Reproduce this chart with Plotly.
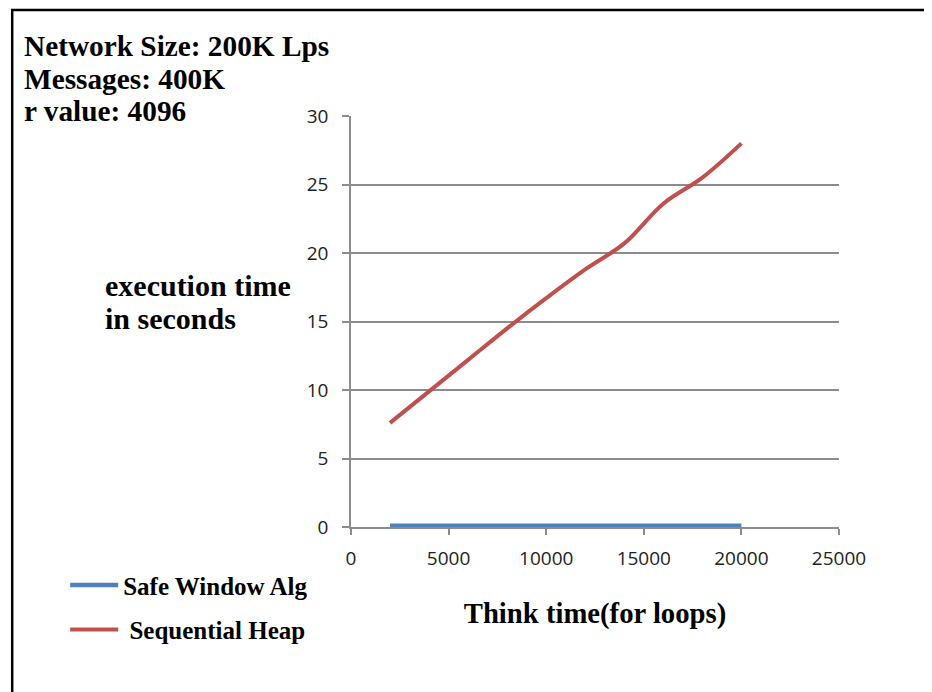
import plotly.graph_objects as go

think_time = [2000, 4000, 6000, 8000, 10000, 12000, 14000, 16000, 18000, 20000]
safe_window = [0.1, 0.1, 0.1, 0.1, 0.1, 0.1, 0.1, 0.1, 0.1, 0.1]
sequential_heap = [7.6, 9.9, 12.2, 14.5, 16.7, 18.8, 20.7, 23.6, 25.5, 28.0]

x_ticks = [0, 5000, 10000, 15000, 20000, 25000]
y_ticks = [0, 5, 10, 15, 20, 25, 30]

BLUE = "#4F81BD"
RED = "#C0504D"
GRID = "#8C8C8C"
SERIF = "Liberation Serif"

fig = go.Figure()
fig.add_trace(go.Scatter(x=think_time, y=safe_window, mode="lines", name="Safe Window Alg",
                         line=dict(color=BLUE, width=4.5, shape="spline"), legendgroup="a"))
fig.add_trace(go.Scatter(x=think_time, y=sequential_heap, mode="lines", name="\u00a0Sequential Heap",
                         line=dict(color=RED, width=4, shape="spline"), legendgroup="b"))

OFF = 8  # page offset of the figure inside the browser
W, H = 932, 692
X0, X1, Y0, Y1 = 351, 839.3, 526.7, 116  # plot area in screen pixels
L = X0 - OFF
R = W - (X1 - OFF)
T = Y1 - OFF
B = H - (Y0 - OFF)
pw = X1 - X0
ph = Y0 - Y1

def px(xs):
    return (xs - X0) / pw

def py(ys):
    return (Y0 - ys) / ph

fig.update_layout(
    width=W, height=H,
    margin=dict(l=L, r=R, t=T, b=B),
    paper_bgcolor="white", plot_bgcolor="white",
    showlegend=True,
    legend=dict(x=px(65), y=py(562), xanchor="left", yanchor="top",
                font=dict(family=SERIF, size=25, color="black", weight="bold"),
                itemwidth=48, tracegroupgap=9, bgcolor="rgba(0,0,0,0)"),
    xaxis=dict(range=[0, 25000], tickvals=x_ticks, ticktext=[str(v) for v in x_ticks],
               showgrid=False, zeroline=False, showline=True, linecolor=GRID, linewidth=1.5,
               ticks="outside", ticklen=6, tickcolor=GRID, tickwidth=1.5,
               tickfont=dict(family="Open Sans", size=19, color="#222"),
               ticklabelstandoff=7,
               title=dict(text="<b>Think time(for loops)</b>", standoff=33,
                          font=dict(family=SERIF, size=28.7, color="black"))),
    yaxis=dict(range=[0, 30], tickvals=y_ticks, ticktext=[str(v) for v in y_ticks],
               showgrid=True, gridcolor=GRID, gridwidth=1.5, zeroline=False,
               showline=True, linecolor=GRID, linewidth=1.5,
               ticks="outside", ticklen=7, tickcolor=GRID, tickwidth=1.5,
               tickfont=dict(family="Open Sans", size=19, color="#222"),
               ticklabelstandoff=10),
)

notes = [("Network Size: 200K Lps", 22, 46, 29.3), ("Messages: 400K", 22, 79, 29.3),
         ("r value: 4096", 22, 111, 29.3),
         ("execution time", 103, 285, 30), ("in seconds", 103, 318, 30)]
for txt, xs, ys, fs in notes:
    fig.add_annotation(text="<b>" + txt + "</b>", x=px(xs), y=py(ys), xref="paper", yref="paper",
                       xanchor="left", yanchor="middle", showarrow=False,
                       font=dict(family=SERIF, size=fs, color="black"))

fig.add_shape(type="rect", xref="paper", yref="paper",
              x0=px(12), x1=px(950), y0=py(710), y1=py(10),
              line=dict(color="black", width=2.5), fillcolor="rgba(0,0,0,0)", layer="below")

fig.write_html("out.html")
